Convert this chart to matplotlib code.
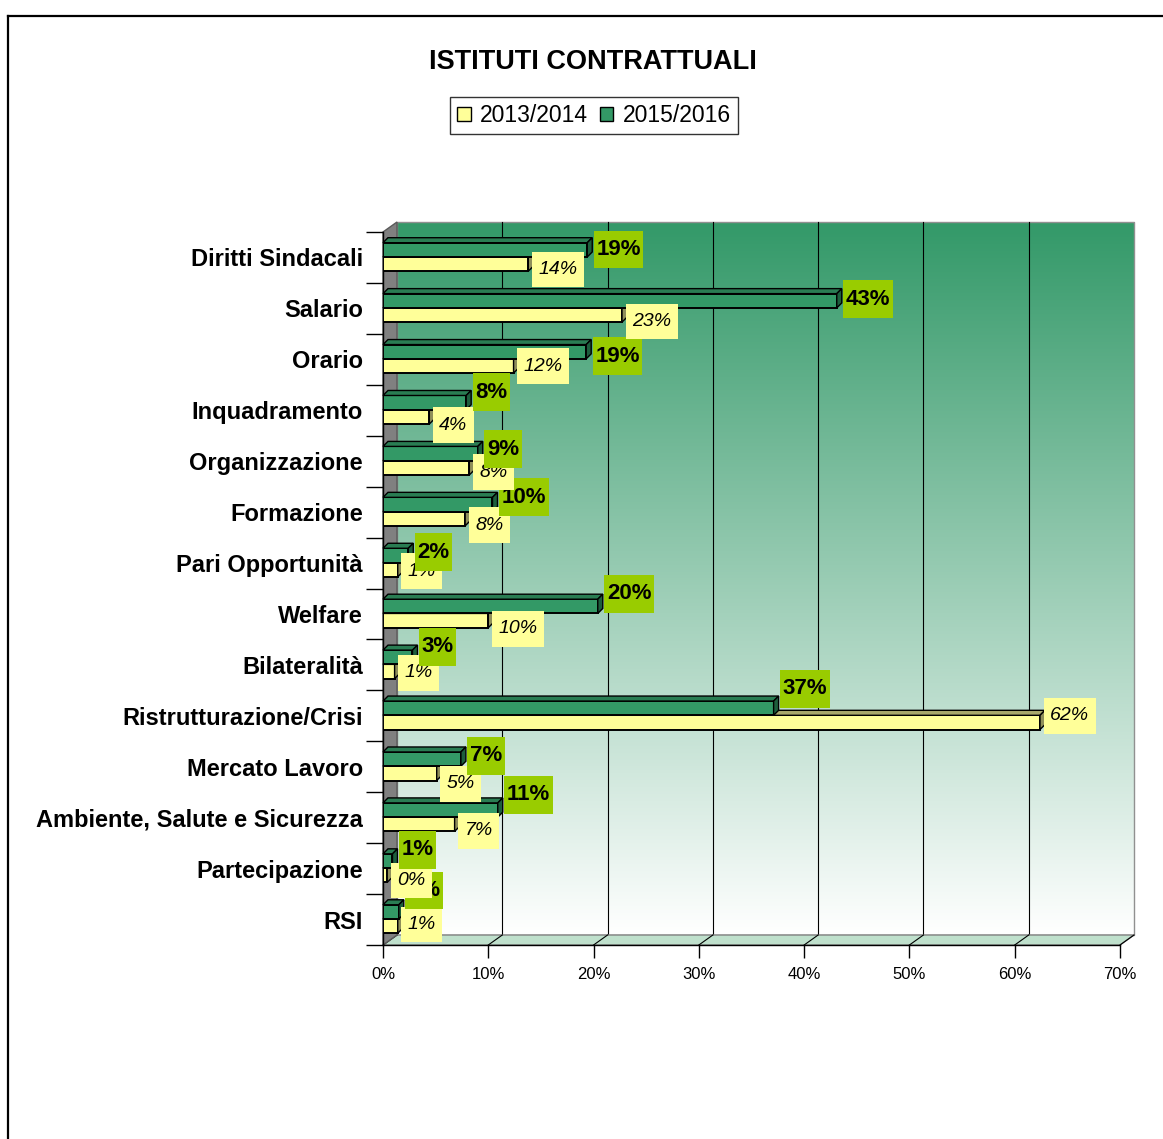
import numpy as np
import matplotlib
matplotlib.use("Agg")
import matplotlib.pyplot as plt
from matplotlib.patches import Polygon, Rectangle, Patch
from matplotlib.path import Path
from matplotlib.lines import Line2D

plt.rcParams['font.family'] = ['Liberation Sans', 'DejaVu Sans']

categories = ["Diritti Sindacali", "Salario", "Orario", "Inquadramento",
              "Organizzazione", "Formazione", "Pari Opportunità", "Welfare",
              "Bilateralità", "Ristrutturazione/Crisi", "Mercato Lavoro",
              "Ambiente, Salute e Sicurezza", "Partecipazione", "RSI"]
series_names = ["2013/2014", "2015/2016"]
val_2013 = [13.8, 22.7, 12.4, 4.4, 8.2, 7.8, 1.4, 10.0, 1.1, 62.4, 5.1, 6.8, 0.4, 1.4]
val_2015 = [19.4, 43.1, 19.3, 7.9, 9.0, 10.4, 2.4, 20.4, 2.8, 37.1, 7.4, 10.9, 0.9, 1.5]
xticks = [0, 10, 20, 30, 40, 50, 60, 70]

# label vertical nudges in pixels (down positive), as placed in the original
nudge_2015 = [-8, -9, -3, -18, -12, -15, -11, -20, -18, -27, -11, -23, -19, -29]
nudge_2013 = [12, 13, 7, 15, 11, 13, 8, 15, 8, 0, 17, 13, 12, 5]

YELLOW = "#FFFF99"
GREEN = "#339966"
LIME = "#99CC00"


def box(px, py):
    """Square box with separate horizontal / vertical padding."""
    def style(x0, y0, width, height, mutation_size):
        ax_, ay_ = px * mutation_size, py * mutation_size
        verts = [(x0 - ax_, y0 - ay_), (x0 + width + ax_, y0 - ay_),
                 (x0 + width + ax_, y0 + height + ay_), (x0 - ax_, y0 + height + ay_),
                 (x0 - ax_, y0 - ay_)]
        return Path(verts, closed=True)
    return style


fig = plt.figure(figsize=(11.63, 11.39), dpi=100)
fig.patch.set_facecolor("white")
ax = fig.add_axes([383 / 1163, 1 - 945 / 1139, 737 / 1163, 713 / 1139])
ax.patch.set_visible(False)

n = len(categories)
WX, WY = 14 / (737 / 70), 10 / (713 / n)   # wall depth in data units
BX, BY = 5 / (737 / 70), 5 / (713 / n)     # bar depth
ytop, ybot = -0.5, n - 0.5

# back wall gradient
t = np.linspace(0, 1, 256)[:, None, None]
top_c = np.array([0.20, 0.60, 0.41])
wall = top_c * (1 - t) + np.array([1.0, 1.0, 1.0]) * t
ax.imshow(wall, extent=(WX, 70 + WX, ybot - WY, ytop - WY), aspect='auto',
          zorder=0, clip_on=False, interpolation='bilinear')
ax.add_patch(Rectangle((WX, ytop - WY), 70, n, fill=False, ec="#909090", lw=1,
                       zorder=0.5, clip_on=False))
for x in xticks[1:-1]:
    ax.plot([x + WX, x + WX], [ybot - WY, ytop - WY], color="black", lw=0.8,
            zorder=1, clip_on=False)

# floor
ax.add_patch(Polygon([(0, ybot), (70, ybot), (70 + WX, ybot - WY), (WX, ybot - WY)],
                     closed=True, fc="#bfe0cc", ec="#808080", lw=1, zorder=1,
                     clip_on=False))
for x in xticks:
    ax.plot([x, x + WX], [ybot, ybot - WY], color="black", lw=0.8, zorder=1.2,
            clip_on=False)

# left wall
ax.add_patch(Polygon([(0, ytop), (WX, ytop - WY), (WX, ybot - WY), (0, ybot)],
                     closed=True, fc="#808080", ec="#5a5a5a", lw=1, zorder=1.5,
                     clip_on=False))

# bars
h = 0.28
pos = np.arange(n)
yc_2015 = pos - 0.15
yc_2013 = pos + 0.13


def faces(vals, ycs, top, side, z):
    for v, yc in zip(vals, ycs):
        y0, y1 = yc - h / 2, yc + h / 2
        ax.add_patch(Polygon([(0, y0), (v, y0), (v + BX, y0 - BY), (BX, y0 - BY)],
                             closed=True, fc=top, ec="black", lw=1, zorder=z,
                             clip_on=False))
        ax.add_patch(Polygon([(v, y0), (v, y1), (v + BX, y1 - BY), (v + BX, y0 - BY)],
                             closed=True, fc=side, ec="black", lw=1, zorder=z,
                             clip_on=False))


ax.barh(yc_2013, val_2013, height=h, color=YELLOW, edgecolor="black", lw=1.4, zorder=3)
faces(val_2013, yc_2013, "#a8a86c", "#8f8f5a", 3.1)
ax.barh(yc_2015, val_2015, height=h, color=GREEN, edgecolor="black", lw=1.4, zorder=3.2)
faces(val_2015, yc_2015, "#2a7d53", "#1d5e3d", 3.3)

# data labels (lower categories beneath upper ones)
for i in range(n):
    base = 10 + (n - 1 - i) * 2
    v = val_2013[i]
    ax.annotate(f"{round(v)}%", (v, i), xytext=(3 + 7, -nudge_2013[i]),
                textcoords="offset pixels", ha="left", va="center",
                fontsize=14, fontstyle="italic", color="black", zorder=base,
                bbox=dict(boxstyle=box(0.33, 0.48), fc=YELLOW, ec="none"))
    v = val_2015[i]
    ax.annotate(f"{round(v)}%", (v, i), xytext=(6 + 3, -nudge_2015[i]),
                textcoords="offset pixels", ha="left", va="center",
                fontsize=16, fontweight="bold", color="black", zorder=base + 1,
                bbox=dict(boxstyle=box(0.12, 0.38), fc=LIME, ec="none"))

ax.set_xlim(0, 70)
ax.set_ylim(ybot, ytop)
ax.set_xticks(xticks, [f"{x}%" for x in xticks])
ax.set_yticks(pos, categories, fontweight="bold", fontsize=17)
ax.set_yticks(np.arange(-0.5, n, 1), minor=True)
ax.tick_params(axis="y", which="major", length=0, pad=14.5)
ax.tick_params(axis="y", which="minor", length=12.5, width=1, color="black")
ax.tick_params(axis="x", length=9.5, width=1, pad=6, labelsize=12)
for s in ["top", "right"]:
    ax.spines[s].set_visible(False)
for s in ["left", "bottom"]:
    ax.spines[s].set_color("black")
    ax.spines[s].set_linewidth(1)
    ax.spines[s].set_zorder(2)

fig.text(593 / 1163, 1 - 62 / 1139, "ISTITUTI CONTRATTUALI", ha="center", va="center",
         fontsize=19.5, fontweight="bold")

leg = fig.legend(handles=[Patch(fc=YELLOW, ec="black"), Patch(fc=GREEN, ec="black")],
                 labels=series_names, loc="upper center",
                 bbox_to_anchor=(594 / 1163, 1 - 97 / 1139), ncol=2, frameon=True,
                 fancybox=False, edgecolor="black", fontsize=16.5, handlelength=0.6,
                 handleheight=0.6, handletextpad=0.4, columnspacing=0.5,
                 borderpad=0.3, borderaxespad=0)
leg.get_frame().set_linewidth(1)

# outer frame of the chart object
fig.add_artist(Line2D([8 / 1163, 8 / 1163], [0, 1 - 16 / 1139], color="black", lw=1.6,
                      transform=fig.transFigure))
fig.add_artist(Line2D([8 / 1163, 1], [1 - 16 / 1139, 1 - 16 / 1139], color="black",
                      lw=1.6, transform=fig.transFigure))

fig.savefig("out.png", dpi=100)
